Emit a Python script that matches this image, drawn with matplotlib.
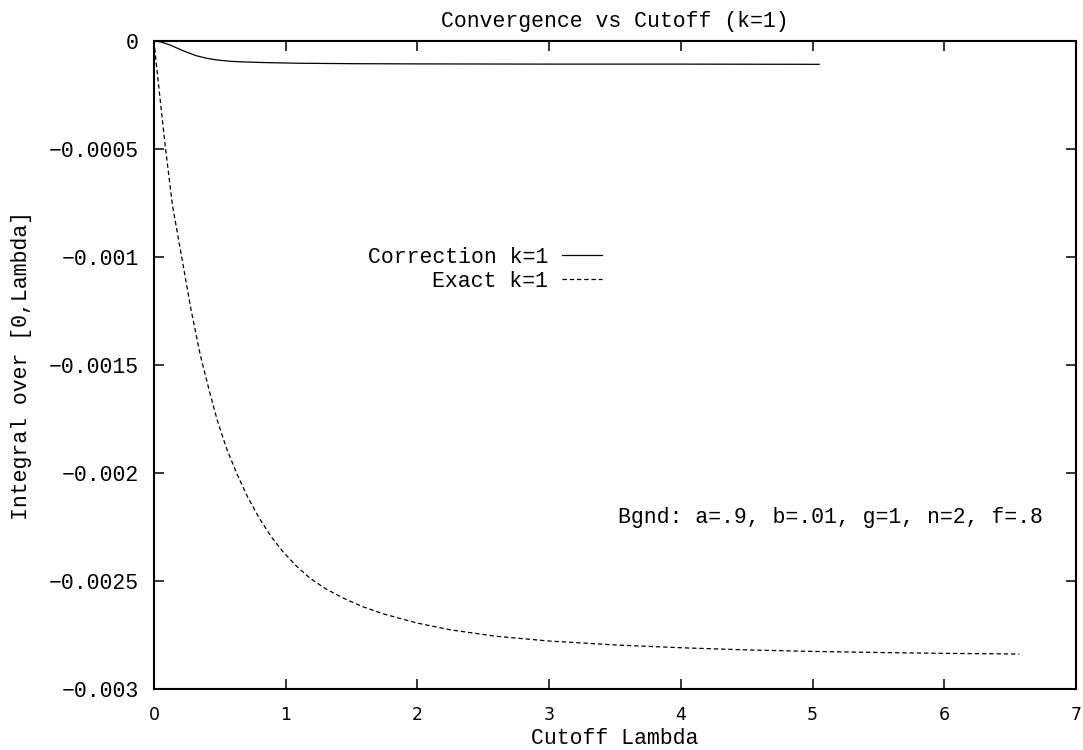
import numpy as np
import matplotlib.pyplot as plt

# values
lam_corr = [0.0, 0.05, 0.12, 0.22, 0.32, 0.40, 0.48, 0.58, 0.68, 0.85, 1.1, 1.5, 2.0, 3.0, 4.0, 5.05]
corr = [0.0, -0.004e-3, -0.018e-3, -0.045e-3, -0.068e-3, -0.080e-3, -0.088e-3, -0.094e-3,
        -0.097e-3, -0.100e-3, -0.103e-3, -0.105e-3, -0.106e-3, -0.107e-3, -0.107e-3, -0.108e-3]

lam_exact = [0.0, 0.015, 0.05, 0.084, 0.14, 0.21, 0.28, 0.35, 0.42, 0.48, 0.55, 0.63, 0.71, 0.80,
             0.89, 0.98, 1.08, 1.18, 1.30, 1.44, 1.58, 1.74, 2.0, 2.25, 2.6, 3.0, 3.5, 4.0,
             4.5, 5.0, 5.5, 6.0, 6.57]
exact = [0.0, -0.09e-3, -0.29e-3, -0.48e-3, -0.76e-3, -1.00e-3, -1.24e-3, -1.45e-3, -1.62e-3,
         -1.755e-3, -1.885e-3, -2.005e-3, -2.11e-3, -2.21e-3, -2.295e-3, -2.365e-3, -2.43e-3,
         -2.485e-3, -2.535e-3, -2.58e-3, -2.618e-3, -2.652e-3, -2.695e-3, -2.726e-3, -2.756e-3,
         -2.778e-3, -2.796e-3, -2.809e-3, -2.819e-3, -2.826e-3, -2.831e-3, -2.835e-3, -2.838e-3]

xticks = [0, 1, 2, 3, 4, 5, 6, 7]
yticks = [0, -0.0005, -0.001, -0.0015, -0.002, -0.0025, -0.003]
ytick_labels = ['0', '\u22120.0005', '\u22120.001', '\u22120.0015', '\u22120.002', '\u22120.0025', '\u22120.003']

mono = 'Liberation Mono'
fs = 15.5

fig = plt.figure(figsize=(10.83, 7.5), dpi=100)
ax = fig.add_axes([154 / 1083, 1 - 689 / 750, 922 / 1083, 648 / 750])

ax.plot(lam_corr, corr, color='black', lw=0.9, label='Correction k=1')
ax.plot(lam_exact, exact, color='black', lw=0.9, linestyle=(0, (3.5, 2.3)), label='Exact k=1')

ax.set_xlim(0, 7)
ax.set_ylim(-0.003, 0)
ax.set_xticks(xticks)
ax.set_yticks(yticks)
ax.set_yticklabels(ytick_labels, fontfamily=mono, fontsize=fs)
ax.set_xticklabels([str(t) for t in xticks], fontfamily='DejaVu Sans', fontsize=12.5)
ax.tick_params(direction='in', length=7, width=1.1, top=True, right=True, color='black')
ax.tick_params(axis='x', pad=12)
ax.tick_params(axis='y', pad=11)
for s in ax.spines.values():
    s.set_linewidth(1.5)

ax.set_title('Convergence vs Cutoff (k=1)', fontfamily=mono, fontsize=fs, pad=10)
ax.set_xlabel('Cutoff Lambda', fontfamily=mono, fontsize=fs, labelpad=3)
ax.set_ylabel('Integral over [0,Lambda]', fontfamily=mono, fontsize=fs, labelpad=12)

ax.text((1043 - 154) / 922, (689 - 518) / 648, 'Bgnd: a=.9, b=.01, g=1, n=2, f=.8',
        transform=ax.transAxes, ha='right', va='center', fontfamily=mono, fontsize=fs)

ax.legend(loc='upper right', bbox_to_anchor=((602 - 154) / 922, (689 - 247) / 648),
          frameon=False, markerfirst=False, handlelength=1.85, handletextpad=0.65,
          borderaxespad=0, borderpad=0, labelspacing=0.12,
          prop={'family': mono, 'size': fs})

fig.savefig('out.png', dpi=100)
